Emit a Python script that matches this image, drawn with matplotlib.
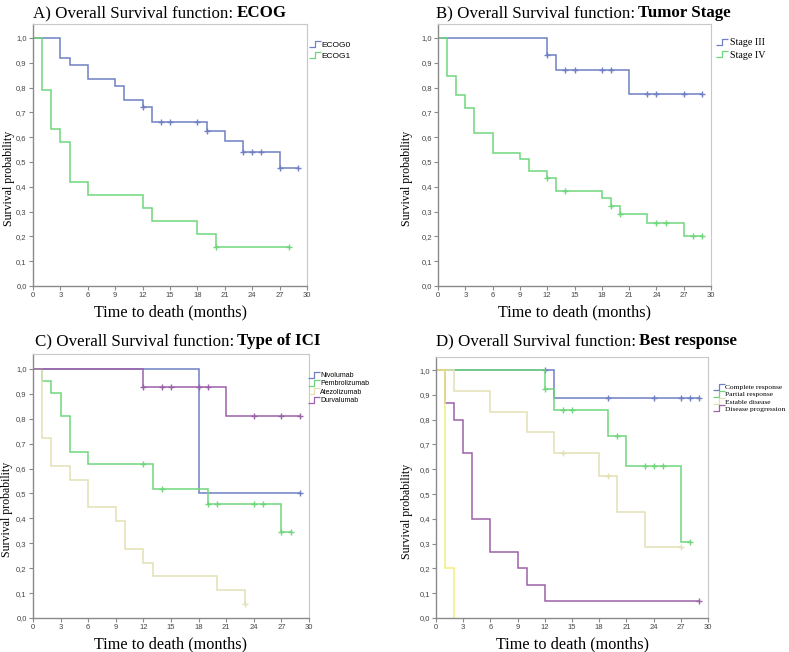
import numpy as np
import matplotlib
matplotlib.use("Agg")
import matplotlib.pyplot as plt
from matplotlib.path import Path
from matplotlib.lines import Line2D
from matplotlib.ticker import FuncFormatter

# ---------------- data ----------------
# Panel A: ECOG
ecog0_t = [0, 3, 4, 6, 9, 10, 12, 13, 19, 21, 23, 27]
ecog0_s = [1.0, 0.917, 0.889, 0.833, 0.806, 0.750, 0.722, 0.661, 0.625, 0.583, 0.542, 0.475]
ecog0_end = 29
ecog0_cens = [12, 14, 15, 18, 19, 23, 24, 25, 27, 29]

ecog1_t = [0, 1, 2, 3, 4, 6, 12, 13, 18, 20]
ecog1_s = [1.0, 0.789, 0.632, 0.579, 0.421, 0.368, 0.316, 0.263, 0.211, 0.158]
ecog1_end = 28
ecog1_cens = [20, 28]

# Panel B: Tumor stage
st3_t = [0, 12, 13, 21]
st3_s = [1.0, 0.933, 0.871, 0.774]
st3_end = 29
st3_cens = [12, 14, 15, 18, 19, 23, 24, 27, 29]

st4_t = [0, 1, 2, 3, 4, 6, 9, 10, 12, 13, 18, 19, 20, 23, 27]
st4_s = [1.0, 0.846, 0.769, 0.718, 0.615, 0.538, 0.513, 0.462, 0.436, 0.382, 0.353, 0.322, 0.290, 0.254, 0.203]
st4_end = 29
st4_cens = [12, 14, 19, 20, 24, 25, 28, 29]

# Panel C: Type of ICI
nivo_t = [0, 18]
nivo_s = [1.0, 0.5]
nivo_end = 29
nivo_cens = [29]

pemb_t = [0, 1, 2, 3, 4, 6, 13, 19, 27]
pemb_s = [1.0, 0.952, 0.905, 0.810, 0.667, 0.619, 0.516, 0.459, 0.344]
pemb_end = 28
pemb_cens = [12, 14, 19, 20, 24, 25, 27, 28]

atez_t = [0, 1, 2, 4, 6, 9, 10, 12, 13, 20, 23]
atez_s = [1.0, 0.722, 0.611, 0.556, 0.444, 0.389, 0.278, 0.222, 0.167, 0.111, 0.056]
atez_end = 23
atez_cens = [23]

durv_t = [0, 12, 21]
durv_s = [1.0, 0.929, 0.813]
durv_end = 29
durv_cens = [12, 14, 15, 18, 19, 24, 27, 29]

# Panel D: Best response
cr_t = [0, 13]
cr_s = [1.0, 0.889]
cr_end = 29
cr_cens = [12, 19, 24, 27, 28, 29]

pr_t = [0, 12, 13, 19, 21, 27]
pr_s = [1.0, 0.923, 0.839, 0.734, 0.612, 0.306]
pr_end = 28
pr_cens = [12, 14, 15, 20, 23, 24, 25, 28]

sd_t = [0, 2, 6, 10, 13, 18, 20, 23]
sd_s = [1.0, 0.917, 0.833, 0.750, 0.667, 0.571, 0.429, 0.286]
sd_end = 27
sd_cens = [14, 19, 27]

pd_t = [0, 1, 2, 3, 4, 6, 9, 10, 12]
pd_s = [1.0, 0.867, 0.800, 0.667, 0.400, 0.267, 0.200, 0.133, 0.067]
pd_end = 29
pd_cens = [29]

other_t = [0, 1, 2]
other_s = [1.0, 0.2, 0.0]
other_end = 2
other_cens = []

x_ticks = list(range(0, 31, 3))
y_ticks = [round(0.1 * i, 1) for i in range(11)]

# ---------------- style ----------------
BLUE = "#6f80c4"
GREEN = "#6fd67c"
TAN = "#e3e0b4"
PURPLE = "#9b62a8"
YELLOW = "#f4ef7c"

W, H = 789, 652
fig = plt.figure(figsize=(W / 100, H / 100), dpi=100)
SERIF = ["Liberation Serif", "DejaVu Serif"]
SANS = ["Liberation Sans", "DejaVu Sans"]

step_path = Path([(-1, -0.5), (0, -0.5), (0, 0.5), (1, 0.5)],
                 [Path.MOVETO, Path.LINETO, Path.LINETO, Path.LINETO])


def px_axes(l, r, t, b):
    return [l / W, 1 - b / H, (r - l) / W, (b - t) / H]


def km(ax, t, s, end, cens, color, lw=1.1):
    tt = list(t) + [end]
    ss = list(s) + [s[-1]]
    ax.step(tt, ss, where="post", color=color, lw=lw, solid_joinstyle="miter")
    if cens:
        idx = np.searchsorted(np.array(t), np.array(cens), side="right") - 1
        cv = np.array(s)[idx]
        ax.plot(cens, cv, linestyle="none", marker="+", ms=5, mew=1.0, color=color)


def setup(ax, ytop, ylx):
    ax.set_xlim(0, 30)
    ax.set_ylim(0, ytop)
    ax.set_xticks(x_ticks)
    ax.set_yticks(y_ticks)
    ax.yaxis.set_major_formatter(FuncFormatter(lambda v, p: f"{v:.1f}".replace(".", ",")))
    for sp in ["top", "right"]:
        ax.spines[sp].set_color("#c8c8c8")
        ax.spines[sp].set_linewidth(0.8)
    for sp in ["left", "bottom"]:
        ax.spines[sp].set_color("#8a8a8a")
        ax.spines[sp].set_linewidth(1.0)
    ax.tick_params(length=3, width=0.8, color="#8a8a8a", labelsize=5.5,
                   labelcolor="#444444", pad=1.5)
    for lab in ax.get_xticklabels() + ax.get_yticklabels():
        lab.set_family(SANS)
    ax.set_xlabel("Time to death (months)", family=SERIF, fontsize=11.7, labelpad=3.5)
    ax.set_ylabel("Survival probability", family=SERIF, fontsize=8.6)
    ax.yaxis.set_label_coords(ylx, 0.41)


def title(x_px, y_px, reg, bold):
    r = fig.canvas.get_renderer()
    t1 = fig.text(x_px / W, 1 - y_px / H, reg, family=SERIF, fontsize=12.2, va="center", ha="left")
    bb = t1.get_window_extent(renderer=r)
    fig.text(bb.x1 / W + 0.004, 1 - y_px / H, bold, family=SERIF, fontsize=12.2,
             fontweight="bold", va="center", ha="left")


def legend(ax, entries, x_px, y_px, fs, fam, spacing=0.15, pad=0.2):
    handles = [Line2D([], [], linestyle="none", marker=step_path, ms=9, mew=0.9,
                      mec=c, mfc="none") for c, _ in entries]
    labels = [l for _, l in entries]
    lg = fig.legend(handles, labels, loc="upper left", bbox_to_anchor=(x_px / W, 1 - y_px / H),
                    frameon=False, prop={"family": fam, "size": fs}, handlelength=1.0,
                    handletextpad=pad, labelspacing=spacing, borderpad=0, borderaxespad=0)
    return lg


# Panel A
axA = fig.add_axes(px_axes(33, 307, 24, 286))
km(axA, ecog0_t, ecog0_s, ecog0_end, ecog0_cens, BLUE)
km(axA, ecog1_t, ecog1_s, ecog1_end, ecog1_cens, GREEN)
setup(axA, 1.056, -0.066)
title(33, 13, "A) Overall Survival function:", "ECOG")
legend(axA, [(BLUE, "ECOG0"), (GREEN, "ECOG1")], 311, 41, 6, SANS, spacing=0.45, pad=0.3)

# Panel B
axB = fig.add_axes(px_axes(438, 711, 24, 286))
km(axB, st3_t, st3_s, st3_end, st3_cens, BLUE)
km(axB, st4_t, st4_s, st4_end, st4_cens, GREEN)
setup(axB, 1.056, -0.092)
title(436, 13, "B) Overall Survival function:", "Tumor Stage")
legend(axB, [(BLUE, "Stage III"), (GREEN, "Stage IV")], 717, 38, 7.2, SERIF, spacing=0.35, pad=0.3)

# Panel C
axC = fig.add_axes(px_axes(33, 309, 354, 618))
km(axC, nivo_t, nivo_s, nivo_end, nivo_cens, BLUE)
km(axC, pemb_t, pemb_s, pemb_end, pemb_cens, GREEN)
km(axC, atez_t, atez_s, atez_end, atez_cens, TAN)
km(axC, durv_t, durv_s, durv_end, durv_cens, PURPLE)
setup(axC, 1.06, -0.072)
title(35, 341, "C) Overall Survival function:", "Type of ICI")
legend(axC, [(BLUE, "Nivolumab"), (GREEN, "Pembrolizumab"), (TAN, "Atezolizumab"),
             (PURPLE, "Durvalumab")], 311, 372, 5, SANS, spacing=0.2, pad=0.35)

# Panel D
axD = fig.add_axes(px_axes(436, 708, 357, 618))
km(axD, cr_t, cr_s, cr_end, cr_cens, BLUE)
km(axD, pr_t, pr_s, pr_end, pr_cens, GREEN)
km(axD, sd_t, sd_s, sd_end, sd_cens, TAN)
km(axD, pd_t, pd_s, pd_end, pd_cens, PURPLE)
km(axD, other_t, other_s, other_end, other_cens, YELLOW)
setup(axD, 1.053, -0.085)
title(436, 341, "D) Overall Survival function:", "Best response")
legend(axD, [(BLUE, "Complete response"), (GREEN, "Partial response"),
             (TAN, "Estable disease"), (PURPLE, "Disease progression")], 715, 384, 5.4, SERIF,
       spacing=0.12, pad=0.3)

fig.savefig("out.png", dpi=100)
